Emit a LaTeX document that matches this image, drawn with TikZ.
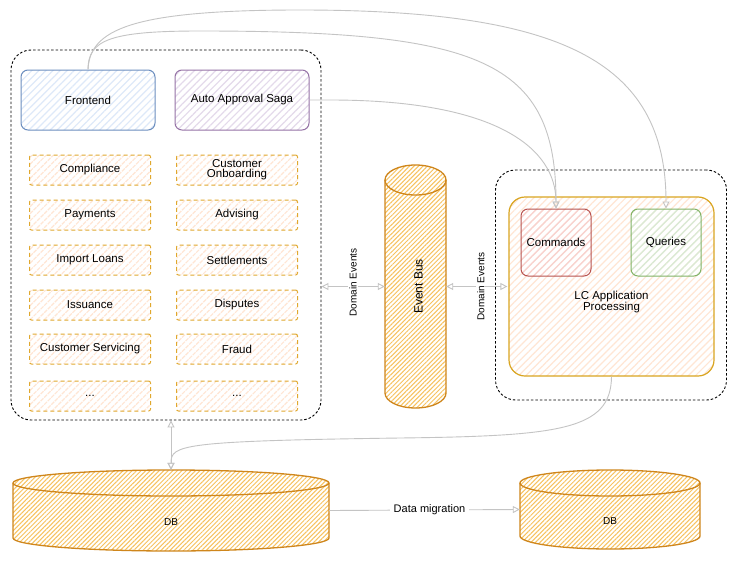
\documentclass[tikz,border=0pt]{standalone}
\usepackage{fontspec}
\setmainfont{Liberation Sans}
\usetikzlibrary{arrows.meta,patterns.meta}

\definecolor{linkgray}{HTML}{C4C4C4}
\definecolor{drumline}{HTML}{CF861C}
\definecolor{drumhatch}{HTML}{F7C25E}
\definecolor{goldline}{HTML}{E0A82E}
\definecolor{lcline}{HTML}{D9A521}
\definecolor{peach}{HTML}{FFE6D4}
\definecolor{blueline}{HTML}{6C8EBF}
\definecolor{bluefill}{HTML}{DEE9F9}
\definecolor{purpleline}{HTML}{9673A6}
\definecolor{purplefill}{HTML}{E4DAEB}
\definecolor{redline}{HTML}{B85450}
\definecolor{redfill}{HTML}{F8D2CF}
\definecolor{greenline}{HTML}{82B366}
\definecolor{greenfill}{HTML}{D8EBD5}

% hatched drum: x1, x2, ytop, ybot, ry
\newcommand{\drum}[5]{%
  \pgfmathsetmacro{\drumrx}{((#2)-(#1))/2}%
  \path[draw=drumline, line width=1.3pt, pattern={Lines[angle=45,distance=3.2pt,line width=1pt]}, pattern color=drumhatch]
    ({#1},{#3+#5}) -- ({#1},{#4-#5})
    arc[start angle=180, end angle=360, x radius=\drumrx pt, y radius=#5pt]
    -- ({#2},{#3+#5})
    arc[start angle=0, end angle=180, x radius=\drumrx pt, y radius=#5pt] -- cycle;
  \draw[drumline, line width=1.3pt] ({#1},{#3+#5})
    arc[start angle=180, end angle=360, x radius=\drumrx pt, y radius=#5pt];
}

\begin{document}
\begin{tikzpicture}[x=1pt, y=-1pt, font=\fontsize{11.5}{13}\selectfont,
    hatch/.style={pattern={Lines[angle=45,distance=5pt,line width=1.2pt]}, pattern color=#1},
    groupbox/.style={draw=black, line width=0.9pt, dash pattern=on 2.5pt off 2pt, rounded corners=20pt},
    card/.style={line width=1pt, rounded corners=7pt, minimum width=134pt, minimum height=60pt},
    domainbox/.style={draw=goldline, line width=1pt, dash pattern=on 4pt off 3pt, rounded corners=2pt,
      hatch=peach, minimum width=121pt, minimum height=30pt, inner sep=1pt, align=center},
    hold/.style={inner sep=0pt, draw=none},
    link/.style={draw=linkgray, line width=0.9pt},
    small/.style={font=\fontsize{10}{11}\selectfont},
    >={Triangle[open, length=7pt, width=7pt]}]

  \useasboundingbox[fill=white] (0,0) rectangle (736,562);

  % Left group: frontend, saga and domains
  \node[groupbox, minimum width=310pt, minimum height=370pt] (left) at (166,235) {};
  \node[card, draw=blueline, hatch=bluefill] (front) at (88,100) {Frontend};
  \node[card, draw=purpleline, hatch=purplefill] (saga) at (242,100) {Auto Approval Saga};

  \node[domainbox] (comp) at (90,170) {Compliance};
  \node[domainbox] (onb) at (237,170) {Customer\\[-3pt]Onboarding};
  \node[domainbox] (pay) at (90,215) {Payments};
  \node[domainbox] (adv) at (237,215) {Advising};
  \node[domainbox] (imp) at (90,260) {Import Loans};
  \node[domainbox] (stl) at (237,260) {Settlements};
  \node[domainbox] (iss) at (90,305) {Issuance};
  \node[domainbox] (dsp) at (237,305) {Disputes};
  \node[domainbox] (srv) at (90,349) {Customer Servicing};
  \node[domainbox] (frd) at (237,349) {Fraud};
  \node[domainbox] (more1) at (90,396) {...};
  \node[domainbox] (more2) at (237,396) {...};

  % Event bus
  \drum{385}{446}{165}{408}{15}
  \node[hold, minimum width=61pt, minimum height=243pt,
    label={[rotate=90, yshift=-3pt, font=\fontsize{12}{13}\selectfont]center:Event Bus}] (bus) at (415.5,286.5) {};

  % Right group: LC application processing
  \node[groupbox, minimum width=231pt, minimum height=230pt] (right) at (611,285) {};
  \node[line width=1.2pt, draw=lcline, hatch=peach, rounded corners=16pt, minimum width=205pt, minimum height=179pt,
    label={[align=center, yshift=-16pt]center:LC Application\\[-2pt]Processing}] (lc) at (611.5,286.5) {};
  \node[card, draw=redline, hatch=redfill, minimum width=70pt, minimum height=67pt] (cmd) at (556,242.5) {Commands};
  \node[card, draw=greenline, hatch=greenfill, minimum width=70pt, minimum height=67pt] (qry) at (666,242.5) {Queries};

  % Databases
  \drum{13}{329}{470}{551}{13}
  \node[hold, minimum width=316pt, minimum height=81pt,
    label={[yshift=-12pt, small]center:DB}] (db1) at (171,510.5) {};
  \drum{520}{700}{470}{549}{13}
  \node[hold, minimum width=180pt, minimum height=79pt,
    label={[yshift=-12pt, small]center:DB}] (db2) at (610,509.5) {};

  % Domain events to and from the bus
  \draw[link, <->] (left.east |- bus.west) -- (bus.west)
    node[midway, rotate=90, fill=white, inner sep=1pt, small, xshift=4pt] (ev1) {Domain Events};
  \draw[link, <->] (bus.east) -- ([xshift=-1pt]lc.west |- bus.east)
    node[midway, rotate=90, fill=white, inner sep=1pt, small, yshift=-4pt] (ev2) {Domain Events};

  % Frontend and saga calls
  \draw[link, ->] (front.north) .. controls (90,30) and (130,10) .. (300,10)
    .. controls (560,10) and (666,60) .. (qry.north);
  \draw[link, ->] (front.north) .. controls (88,40) and (110,31) .. (200,31)
    .. controls (480,31) and (556,60) .. (cmd.north);
  \draw[link, ->] (saga.east) -- (330,100) .. controls (500,100) and (556,150) .. (cmd.north);

  % Storage
  \draw[link, <->] (db1.north |- left.south) -- (db1.north);
  \draw[link, ->] (lc.south) .. controls (611,430) and (560,436) .. (400,438)
    .. controls (180,441) and (171,445) .. (db1.north);
  \draw[link, ->] (db1.east) -- (db2.west)
    node[midway, fill=white, inner sep=4pt, font=\fontsize{11}{12}\selectfont, xshift=5pt] (mig) {Data migration};
\end{tikzpicture}
\end{document}
